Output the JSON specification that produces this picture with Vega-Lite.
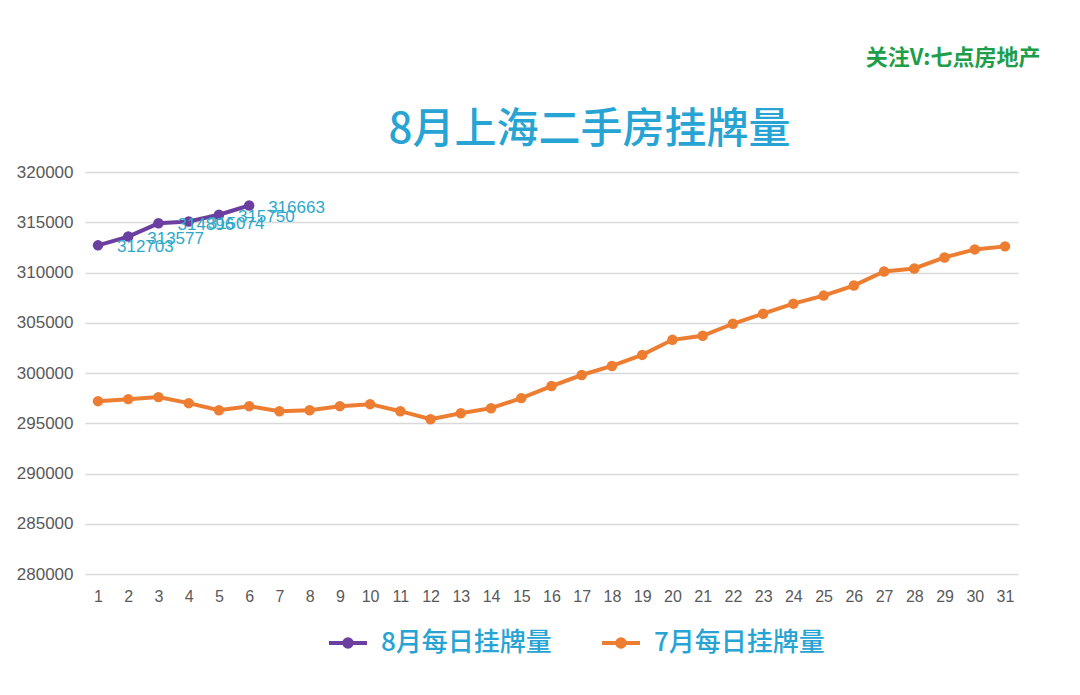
{
  "$schema": "https://vega.github.io/schema/vega-lite/v6.json",
  "autosize": "none",
  "width": 933,
  "height": 402,
  "padding": {"left": 85, "top": 172, "right": 62, "bottom": 121},
  "background": "white",
  "title": {
    "text": "8月上海二手房挂牌量",
    "font": "Noto Sans CJK SC",
    "fontSize": 42,
    "fontWeight": 500,
    "color": "#27a3d4",
    "anchor": "middle",
    "frame": "group",
    "dx": 38,
    "dy": 124,
    "offset": 18
  },
  "data": {
    "values": [
      {"day": 1, "value": 312703, "series": "8月每日挂牌量"},
      {"day": 2, "value": 313577, "series": "8月每日挂牌量"},
      {"day": 3, "value": 314896, "series": "8月每日挂牌量"},
      {"day": 4, "value": 315074, "series": "8月每日挂牌量"},
      {"day": 5, "value": 315750, "series": "8月每日挂牌量"},
      {"day": 6, "value": 316663, "series": "8月每日挂牌量"},
      {"day": 1, "value": 297200, "series": "7月每日挂牌量"},
      {"day": 2, "value": 297400, "series": "7月每日挂牌量"},
      {"day": 3, "value": 297600, "series": "7月每日挂牌量"},
      {"day": 4, "value": 297000, "series": "7月每日挂牌量"},
      {"day": 5, "value": 296300, "series": "7月每日挂牌量"},
      {"day": 6, "value": 296700, "series": "7月每日挂牌量"},
      {"day": 7, "value": 296200, "series": "7月每日挂牌量"},
      {"day": 8, "value": 296300, "series": "7月每日挂牌量"},
      {"day": 9, "value": 296700, "series": "7月每日挂牌量"},
      {"day": 10, "value": 296900, "series": "7月每日挂牌量"},
      {"day": 11, "value": 296200, "series": "7月每日挂牌量"},
      {"day": 12, "value": 295400, "series": "7月每日挂牌量"},
      {"day": 13, "value": 296000, "series": "7月每日挂牌量"},
      {"day": 14, "value": 296500, "series": "7月每日挂牌量"},
      {"day": 15, "value": 297500, "series": "7月每日挂牌量"},
      {"day": 16, "value": 298700, "series": "7月每日挂牌量"},
      {"day": 17, "value": 299800, "series": "7月每日挂牌量"},
      {"day": 18, "value": 300700, "series": "7月每日挂牌量"},
      {"day": 19, "value": 301800, "series": "7月每日挂牌量"},
      {"day": 20, "value": 303300, "series": "7月每日挂牌量"},
      {"day": 21, "value": 303700, "series": "7月每日挂牌量"},
      {"day": 22, "value": 304900, "series": "7月每日挂牌量"},
      {"day": 23, "value": 305900, "series": "7月每日挂牌量"},
      {"day": 24, "value": 306900, "series": "7月每日挂牌量"},
      {"day": 25, "value": 307700, "series": "7月每日挂牌量"},
      {"day": 26, "value": 308700, "series": "7月每日挂牌量"},
      {"day": 27, "value": 310100, "series": "7月每日挂牌量"},
      {"day": 28, "value": 310400, "series": "7月每日挂牌量"},
      {"day": 29, "value": 311500, "series": "7月每日挂牌量"},
      {"day": 30, "value": 312300, "series": "7月每日挂牌量"},
      {"day": 31, "value": 312600, "series": "7月每日挂牌量"}
    ]
  },
  "encoding": {
    "x": {
      "field": "day",
      "type": "ordinal",
      "scale": {"type": "point", "padding": 0.43},
      "axis": {
        "title": null,
        "labelAngle": 0,
        "ticks": false,
        "domain": false,
        "grid": false,
        "labelFont": "Liberation Sans",
        "labelFontSize": 16,
        "labelColor": "#595959",
        "labelPadding": 14
      }
    },
    "y": {
      "field": "value",
      "type": "quantitative",
      "scale": {"domain": [280000, 320000], "nice": false, "zero": false},
      "axis": {
        "values": [280000, 285000, 290000, 295000, 300000, 305000, 310000, 315000, 320000],
        "format": "d",
        "ticks": false,
        "domain": false,
        "grid": true,
        "gridColor": "#d9d9d9",
        "gridWidth": 1.3,
        "labelFont": "Liberation Sans",
        "labelFontSize": 17,
        "labelColor": "#595959",
        "labelPadding": 12,
        "title": "关注V:七点房地产",
        "titleAngle": 0,
        "titleAlign": "right",
        "titleBaseline": "alphabetic",
        "titleX": 955,
        "titleY": -108,
        "titleFont": "Noto Sans CJK SC",
        "titleFontSize": 22,
        "titleFontWeight": "bold",
        "titleColor": "#1e9e4a"
      }
    },
    "color": {
      "field": "series",
      "type": "nominal",
      "scale": {
        "domain": ["8月每日挂牌量", "7月每日挂牌量"],
        "range": ["#6b3fa0", "#ed7d31"]
      },
      "legend": {
        "title": null,
        "orient": "none",
        "legendX": 242,
        "legendY": 450,
        "direction": "horizontal",
        "symbolType": "M-1,0L1,0M0.2,0A0.2,0.2,0,1,1,-0.2,0A0.2,0.2,0,1,1,0.2,0Z",
        "symbolSize": 1444,
        "symbolStrokeWidth": 4,
        "labelFont": "Noto Sans CJK SC",
        "labelFontSize": 26,
        "labelFontWeight": 500,
        "labelColor": "#27a3d4",
        "labelOffset": 12,
        "columnPadding": 42,
        "labelLimit": 400,
        "encode": {
          "symbols": {"update": {"fill": {"scale": "color", "field": "value"}, "stroke": {"scale": "color", "field": "value"}}}
        }
      }
    }
  },
  "layer": [
    {"mark": {"type": "line", "strokeWidth": 4}},
    {"mark": {"type": "point", "filled": true, "size": 110, "opacity": 1}},
    {
      "transform": [{"filter": "datum.series === '8月每日挂牌量'"}],
      "mark": {
        "type": "text",
        "align": "left",
        "baseline": "middle",
        "dx": 19,
        "dy": 2,
        "font": "Liberation Sans",
        "fontSize": 17,
        "color": "#2ea8c9"
      },
      "encoding": {
        "text": {"field": "value", "type": "quantitative", "format": "d"},
        "color": {"value": "#2ea8c9"}
      }
    }
  ],
  "config": {
    "view": {"stroke": null}
  }
}
